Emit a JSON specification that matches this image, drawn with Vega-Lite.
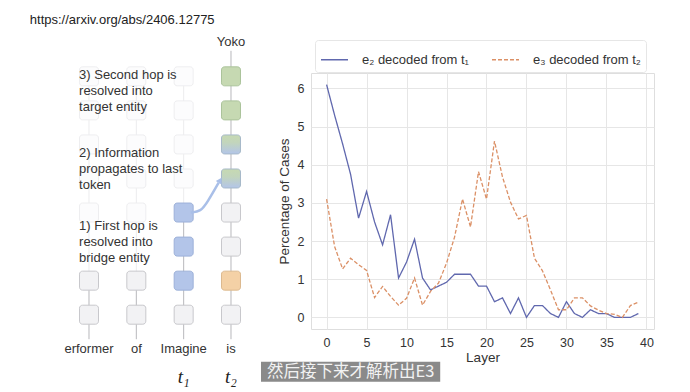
{
  "$schema": "https://vega.github.io/schema/vega-lite/v6.json",
  "background": "white",
  "padding": {"left": 0, "top": 14, "right": 0, "bottom": 0},
  "bounds": "flush",
  "spacing": 41,
  "config": {
    "font": "Liberation Sans",
    "axis": {
      "labelFont": "Liberation Sans",
      "titleFont": "Liberation Sans",
      "domain": false,
      "ticks": false,
      "gridColor": "#e6e6e6",
      "gridWidth": 1,
      "labelColor": "#333333",
      "titleColor": "#333333",
      "titleFontWeight": "normal",
      "labelFontSize": 12.5,
      "titleFontSize": 13.5
    },
    "legend": {"labelFont": "Liberation Sans"}
  },
  "datasets": {
    "layers": [
      {"layer": 0, "e2": 6.1, "e3": 3.1},
      {"layer": 1, "e2": 5.3, "e3": 1.86},
      {"layer": 2, "e2": 4.55, "e3": 1.27},
      {"layer": 3, "e2": 3.75, "e3": 1.55},
      {"layer": 4, "e2": 2.6, "e3": 1.38},
      {"layer": 5, "e2": 3.3, "e3": 1.23},
      {"layer": 6, "e2": 2.5, "e3": 0.52},
      {"layer": 7, "e2": 1.9, "e3": 0.81},
      {"layer": 8, "e2": 2.69, "e3": 0.55},
      {"layer": 9, "e2": 1.03, "e3": 0.32},
      {"layer": 10, "e2": 1.45, "e3": 0.5},
      {"layer": 11, "e2": 2.05, "e3": 1.03},
      {"layer": 12, "e2": 1.03, "e3": 0.32},
      {"layer": 13, "e2": 0.72, "e3": 0.68},
      {"layer": 14, "e2": 0.82, "e3": 0.9},
      {"layer": 15, "e2": 0.92, "e3": 1.42},
      {"layer": 16, "e2": 1.13, "e3": 2.1},
      {"layer": 17, "e2": 1.13, "e3": 3.1},
      {"layer": 18, "e2": 1.13, "e3": 2.37},
      {"layer": 19, "e2": 0.82, "e3": 3.82},
      {"layer": 20, "e2": 0.82, "e3": 3.1},
      {"layer": 21, "e2": 0.41, "e3": 4.62},
      {"layer": 22, "e2": 0.51, "e3": 3.68},
      {"layer": 23, "e2": 0.1, "e3": 3.02},
      {"layer": 24, "e2": 0.51, "e3": 2.58},
      {"layer": 25, "e2": 0.0, "e3": 2.67},
      {"layer": 26, "e2": 0.31, "e3": 1.55},
      {"layer": 27, "e2": 0.31, "e3": 1.22},
      {"layer": 28, "e2": 0.1, "e3": 0.72},
      {"layer": 29, "e2": 0.0, "e3": 0.2},
      {"layer": 30, "e2": 0.41, "e3": 0.2},
      {"layer": 31, "e2": 0.1, "e3": 0.51},
      {"layer": 32, "e2": 0.0, "e3": 0.51},
      {"layer": 33, "e2": 0.2, "e3": 0.3},
      {"layer": 34, "e2": 0.1, "e3": 0.19},
      {"layer": 35, "e2": 0.1, "e3": 0.1},
      {"layer": 36, "e2": 0.0, "e3": 0.08},
      {"layer": 37, "e2": 0.0, "e3": 0.0},
      {"layer": 38, "e2": 0.0, "e3": 0.31},
      {"layer": 39, "e2": 0.1, "e3": 0.4}
    ],
    "boxes": [
      {"col": 0, "row": 0, "kind": "grey"}, {"col": 0, "row": 1, "kind": "grey"},
      {"col": 0, "row": 3, "kind": "faint"}, {"col": 0, "row": 4, "kind": "faint"},
      {"col": 0, "row": 5, "kind": "faint"}, {"col": 0, "row": 6, "kind": "faint"}, {"col": 0, "row": 7, "kind": "faint"},
      {"col": 1, "row": 0, "kind": "grey"}, {"col": 1, "row": 1, "kind": "grey"},
      {"col": 1, "row": 3, "kind": "faint"}, {"col": 1, "row": 4, "kind": "faint"},
      {"col": 1, "row": 5, "kind": "faint"}, {"col": 1, "row": 6, "kind": "faint"}, {"col": 1, "row": 7, "kind": "faint"},
      {"col": 2, "row": 0, "kind": "grey"}, {"col": 2, "row": 1, "kind": "blue"},
      {"col": 2, "row": 2, "kind": "blue"}, {"col": 2, "row": 3, "kind": "blue"},
      {"col": 2, "row": 4, "kind": "faint"}, {"col": 2, "row": 5, "kind": "faint"},
      {"col": 2, "row": 6, "kind": "faint"}, {"col": 2, "row": 7, "kind": "faint"},
      {"col": 3, "row": 0, "kind": "grey"}, {"col": 3, "row": 1, "kind": "orange"},
      {"col": 3, "row": 2, "kind": "grey"}, {"col": 3, "row": 3, "kind": "grey"},
      {"col": 3, "row": 4, "kind": "mix"}, {"col": 3, "row": 5, "kind": "mix"},
      {"col": 3, "row": 6, "kind": "green"}, {"col": 3, "row": 7, "kind": "green"}
    ],
    "links": [
      {"col": 0, "row": -0.72, "row2": 1.0, "state": "shown"},
      {"col": 0, "row": 1.0, "row2": 7.0, "state": "faded"},
      {"col": 1, "row": -0.72, "row2": 1.0, "state": "shown"},
      {"col": 1, "row": 1.0, "row2": 7.0, "state": "faded"},
      {"col": 2, "row": -0.72, "row2": 3.0, "state": "shown"},
      {"col": 2, "row": 3.0, "row2": 7.0, "state": "faded"},
      {"col": 3, "row": -0.72, "row2": 7.75, "state": "shown"}
    ],
    "arrow": [
      {"col": 2.15, "row": 3.0, "step": 0},
      {"col": 2.36, "row": 3.03, "step": 1},
      {"col": 2.5, "row": 3.3, "step": 2},
      {"col": 2.74, "row": 3.88, "step": 3}
    ],
    "arrowhead": [{"col": 2.77, "row": 3.95}],
    "texts": [
      {"group": "url", "col": -1.25, "row": 8.64, "label": "https://arxiv.org/abs/2406.12775"},
      {"group": "yoko", "col": 3, "row": 8.0, "label": "Yoko"},
      {"group": "token", "col": 0, "row": -1.0, "label": "erformer"},
      {"group": "token", "col": 1, "row": -1.0, "label": "of"},
      {"group": "token", "col": 2, "row": -1.0, "label": "Imagine"},
      {"group": "token", "col": 3, "row": -1.0, "label": "is"},
      {"group": "t", "col": 2, "row": -1.82, "label": "t₁"},
      {"group": "t", "col": 3, "row": -1.82, "label": "t₂"},
      {"group": "note", "col": -0.21, "row": 7.21, "label": "3) Second hop is\nresolved into\ntarget entity"},
      {"group": "note", "col": -0.21, "row": 4.92, "label": "2) Information\npropagates to last\ntoken"},
      {"group": "note", "col": -0.21, "row": 2.78, "label": "1) First hop is\nresolved into\nbridge entity"}
    ],
    "caption": [
      {"col": 3.634, "col2": 7.42, "row": -1.38, "row2": -1.97, "cx": 5.527, "cy": -1.675, "label": "然后接下来才解析出E3"}
    ]
  },
  "hconcat": [
    {
      "width": 270,
      "height": 256,
      "view": {"stroke": null},
      "encoding": {
        "x": {"field": "col", "type": "quantitative", "scale": {"domain": [-1.88, 3.824], "nice": false, "zero": false}, "axis": null},
        "y": {"field": "row", "type": "quantitative", "scale": {"domain": [-0.42, 7.098], "nice": false, "zero": false}, "axis": null}
      },
      "layer": [
        {
          "data": {"name": "links"},
          "transform": [{"filter": "datum.state == 'faded'"}],
          "mark": {"type": "rule", "color": "#ececee", "strokeWidth": 1},
          "encoding": {"y2": {"field": "row2"}}
        },
        {
          "data": {"name": "links"},
          "transform": [{"filter": "datum.state == 'shown'"}],
          "mark": {"type": "rule", "color": "#b8b8bc", "strokeWidth": 1},
          "encoding": {"y2": {"field": "row2"}}
        },
        {
          "data": {"name": "boxes"},
          "transform": [{"filter": "datum.kind != 'mix'"}],
          "mark": {"type": "rect", "width": 19, "height": 19, "cornerRadius": 3, "strokeWidth": 1},
          "encoding": {
            "fill": {"field": "kind", "type": "nominal", "legend": null,
              "scale": {"domain": ["grey", "faint", "blue", "orange", "green"], "range": ["#f2f2f4", "#fcfcfd", "#b3c5e9", "#f4d1a6", "#c6d9b2"]}},
            "stroke": {"field": "kind", "type": "nominal", "legend": null,
              "scale": {"domain": ["grey", "faint", "blue", "orange", "green"], "range": ["#c8c8cc", "#eeeef0", "#9db1d9", "#dcb98e", "#aac39a"]}}
          }
        },
        {
          "data": {"name": "boxes"},
          "transform": [{"filter": "datum.kind == 'mix'"}],
          "mark": {"type": "rect", "width": 19, "height": 19, "cornerRadius": 3, "strokeWidth": 1, "stroke": "#a6b9c9",
            "fill": {"gradient": "linear", "x1": 0, "y1": 0, "x2": 0, "y2": 1,
              "stops": [{"offset": 0, "color": "#c6d9b2"}, {"offset": 0.4, "color": "#c2d5bc"}, {"offset": 1, "color": "#b3c5e9"}]}}
        },
        {
          "data": {"name": "arrow"},
          "mark": {"type": "line", "interpolate": "basis", "color": "#a9bfe8", "strokeWidth": 2.5},
          "encoding": {"order": {"field": "step", "type": "quantitative"}}
        },
        {
          "data": {"name": "arrowhead"},
          "mark": {"type": "point", "shape": "triangle-up", "filled": true, "color": "#a9bfe8", "size": 45, "angle": 31, "opacity": 1}
        },
        {
          "data": {"name": "texts"},
          "transform": [{"filter": "datum.group == 'url'"}],
          "mark": {"type": "text", "align": "left", "baseline": "middle", "fontSize": 13, "color": "#222222", "font": "Liberation Sans"},
          "encoding": {"text": {"field": "label"}}
        },
        {
          "data": {"name": "texts"},
          "transform": [{"filter": "datum.group == 'yoko' || datum.group == 'token'"}],
          "mark": {"type": "text", "align": "center", "baseline": "middle", "fontSize": 13, "color": "#333333", "font": "Liberation Sans"},
          "encoding": {"text": {"field": "label"}}
        },
        {
          "data": {"name": "texts"},
          "transform": [{"filter": "datum.group == 't'"}],
          "mark": {"type": "text", "align": "center", "baseline": "middle", "fontSize": 19, "fontStyle": "italic", "color": "#222222", "font": "Liberation Serif"},
          "encoding": {"text": {"field": "label"}}
        },
        {
          "data": {"name": "texts"},
          "transform": [{"filter": "datum.group == 'note'"}],
          "mark": {"type": "text", "align": "left", "baseline": "top", "fontSize": 13, "lineHeight": 16, "lineBreak": "\n", "color": "#333333", "font": "Liberation Sans"},
          "encoding": {"text": {"field": "label"}}
        },
        {
          "data": {"name": "caption"},
          "mark": {"type": "rect", "fill": "#8a8a8a", "opacity": 1},
          "encoding": {"x2": {"field": "col2"}, "y2": {"field": "row2"}}
        },
        {
          "data": {"name": "caption"},
          "mark": {"type": "text", "align": "center", "baseline": "middle", "fontSize": 16.5, "color": "#f2f2f2", "font": "Noto Sans CJK SC"},
          "encoding": {
            "x": {"field": "cx", "type": "quantitative"},
            "y": {"field": "cy", "type": "quantitative"},
            "text": {"field": "label"}
          }
        }
      ]
    },
    {
      "width": 343,
      "height": 256,
      "view": {"stroke": "#dedede"},
      "data": {"name": "layers"},
      "transform": [{"fold": ["e2", "e3"], "as": ["series", "pct"]}],
      "mark": {"type": "line", "strokeWidth": 1.3},
      "encoding": {
        "x": {"field": "layer", "type": "quantitative",
          "scale": {"domain": [-1.95, 40.95], "nice": false, "zero": false},
          "axis": {"values": [0, 5, 10, 15, 20, 25, 30, 35, 40], "title": "Layer", "labelPadding": 7, "titlePadding": 2, "labelFlush": false}},
        "y": {"field": "pct", "type": "quantitative",
          "scale": {"domain": [-0.305, 6.405], "nice": false, "zero": false},
          "axis": {"values": [0, 1, 2, 3, 4, 5, 6], "title": "Percentage of Cases", "labelPadding": 7, "titlePadding": 6}},
        "color": {"field": "series", "type": "nominal",
          "scale": {"domain": ["e2", "e3"], "range": ["#6068ae", "#db9066"]},
          "legend": {"title": null, "orient": "none", "legendX": 315, "legendY": -33, "direction": "horizontal", "columns": 2,
            "symbolType": "stroke", "symbolSize": 729, "symbolStrokeWidth": 1.3, "labelFontSize": 13, "labelColor": "#333333",
            "labelOffset": 13, "columnPadding": 20, "padding": 5, "fillColor": "white", "strokeColor": "#e6e6e6", "cornerRadius": 3,
            "labelExpr": "datum.label == 'e2' ? 'e₂ decoded from t₁' : 'e₃ decoded from t₂'"}},
        "strokeDash": {"field": "series", "type": "nominal",
          "scale": {"domain": ["e2", "e3"], "range": [[1, 0], [4, 2]]},
          "legend": {"title": null, "orient": "none", "legendX": 315, "legendY": -33, "direction": "horizontal", "columns": 2,
            "symbolType": "stroke", "symbolSize": 729, "symbolStrokeWidth": 1.3, "labelFontSize": 13, "labelColor": "#333333",
            "labelOffset": 13, "columnPadding": 20, "padding": 5, "fillColor": "white", "strokeColor": "#e6e6e6", "cornerRadius": 3,
            "labelExpr": "datum.label == 'e2' ? 'e₂ decoded from t₁' : 'e₃ decoded from t₂'"}}
      }
    }
  ]
}
